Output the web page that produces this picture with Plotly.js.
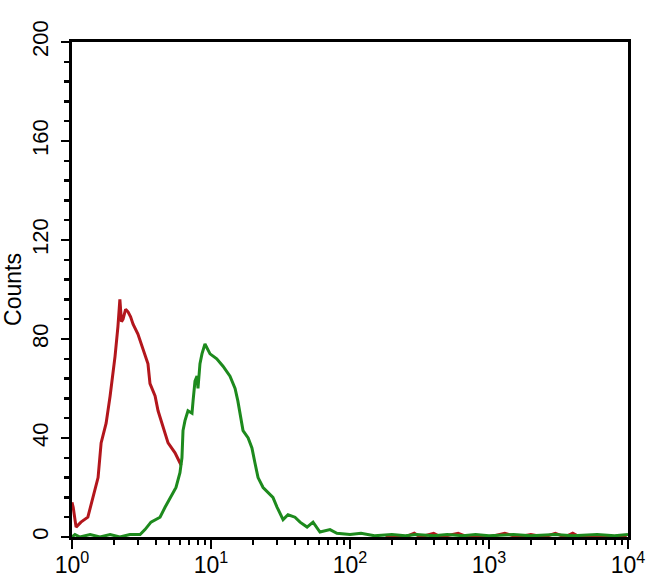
<!DOCTYPE html>
<html>
<head>
<meta charset="utf-8">
<script src="https://cdn.plot.ly/plotly-3.0.1.min.js"></script>
<style>html,body{margin:0;padding:0;background:#fff;}#chart{width:650px;height:585px;}</style>
</head>
<body>
<div id="chart"></div>
<script>
// Control (red) histogram: fluorescence intensity vs counts
const redX = [1.00, 1.02, 1.07, 1.16, 1.30, 1.42, 1.54, 1.62, 1.76, 1.88, 2.04, 2.14, 2.21, 2.27, 2.33, 2.43, 2.53, 2.64, 2.75, 2.98, 3.24, 3.52, 3.64, 3.96, 4.16, 4.52, 4.91, 5.51, 5.98, 6.10,
              null, 180, 250, 290, 320, 400, 450, 600, 700, 1000, 1300, 1600, 2000, 2500, 3000, 3500, 4000, 4500, 9800];
const redY = [14, 12, 4, 6, 8, 16, 24, 38, 46, 57, 73, 85, 96, 87, 88, 92, 91, 89, 86, 82, 76, 70, 62, 57, 51, 44, 38, 34, 30, 29,
              null, 0, 0, 1.5, 0, 1.5, 0, 1.5, 0, 0, 1.5, 0, 1, 0, 1.5, 0, 1.5, 0, 0];

// Sample (green) histogram
const greenX = [1.00, 1.05, 1.14, 1.35, 1.59, 1.88, 2.21, 2.61, 3.09, 3.35, 3.70, 4.02, 4.30, 4.67, 5.15, 5.60, 5.98, 6.18, 6.29, 6.50, 6.83, 7.30, 7.43, 7.67, 7.93, 8.06, 8.33, 8.61, 9.05, 9.84,
                11.0, 12.2, 13.7, 14.9, 15.6, 16.2, 17.0, 18.5, 19.7, 20.7, 21.8, 23.7, 25.7, 27.9, 29.9, 33.0, 35.8, 40.2, 43.7, 49.1, 54.2, 60.8, 71.8, 80.5,
                100, 120, 150, 200, 250, 300, 400, 500, 650, 800, 1000, 1500, 2000, 3000, 4000, 6000, 8000, 10000];
const greenY = [0, 1, 0, 1, 0, 1, 0, 1, 1, 3, 6, 7, 8, 12, 16, 20, 26, 32, 43, 47, 51, 50, 55, 63, 65, 60, 70, 74, 78, 74,
                72, 69, 65, 60, 55, 49, 43, 40, 36, 30, 24, 20, 18, 16, 12, 7, 9, 8, 6, 4, 6, 2, 3, 1.5,
                1, 1.5, 0.5, 1, 0.5, 1, 0.5, 1, 0.5, 1, 0.5, 1, 0.5, 1, 0.5, 1, 0.5, 1];

// Axis ticks
const xTickVals = [1, 10, 100, 1000, 10000];
const xTickText = ['10<sup>0</sup>', '10<sup>1</sup>', '10<sup>2</sup>', '10<sup>3</sup>', '10<sup>4</sup>'];
const yTickVals = [0, 40, 80, 120, 160, 200];
const yTickText = ['0', '40', '80', '120', '160', '200'];

// Log minor tick positions (2..9 in each decade)
const xMinor = [];
for (let d = 0; d < 4; d++) for (let m = 2; m <= 9; m++) xMinor.push(m * Math.pow(10, d));

const FONT = 'Liberation Sans Narrow, Arial Narrow, Liberation Sans, Arial, sans-serif';

const traces = [
  {x: redX, y: redY, type: 'scatter', mode: 'lines', connectgaps: false,
   line: {color: '#b3161c', width: 3}, hoverinfo: 'skip'},
  {x: greenX, y: greenY, type: 'scatter', mode: 'lines',
   line: {color: '#1d8a1d', width: 3}, hoverinfo: 'skip'}
];

const layout = {
  width: 650, height: 585,
  margin: {l: 72, r: 22, t: 42, b: 48},
  paper_bgcolor: '#fff', plot_bgcolor: '#fff',
  showlegend: false,
  font: {family: FONT, color: '#000'},
  xaxis: {
    type: 'log', range: [0, 4],
    tickvals: xTickVals, ticktext: xTickText,
    ticks: 'outside', ticklen: 9, tickwidth: 2.5, tickcolor: '#000',
    minor: {tickvals: xMinor, ticks: 'outside', ticklen: 5, tickwidth: 2, tickcolor: '#000', showgrid: false},
    showline: true, linecolor: '#000', linewidth: 3, mirror: true,
    showgrid: false, zeroline: false,
    ticklabelstandoff: -4,
    tickfont: {family: FONT, size: 23, color: '#000'}
  },
  yaxis: {
    range: [0, 200],
    tickvals: yTickVals, ticktext: yTickText, tickangle: -90,
    ticks: 'outside', ticklen: 8, tickwidth: 2.5, tickcolor: '#000',
    minor: {dtick: 8, tick0: 0, ticks: 'outside', ticklen: 5, tickwidth: 2.5, tickcolor: '#000', showgrid: false},
    showline: true, linecolor: '#000', linewidth: 3, mirror: true,
    showgrid: false, zeroline: false,
    ticklabelstandoff: 4,
    tickfont: {family: FONT, size: 22, color: '#000'},
    title: {text: 'Counts', font: {family: FONT, size: 23, color: '#000'}, standoff: 1}
  }
};

Plotly.newPlot('chart', traces, layout, {staticPlot: true, displayModeBar: false});
</script>
</body>
</html>
